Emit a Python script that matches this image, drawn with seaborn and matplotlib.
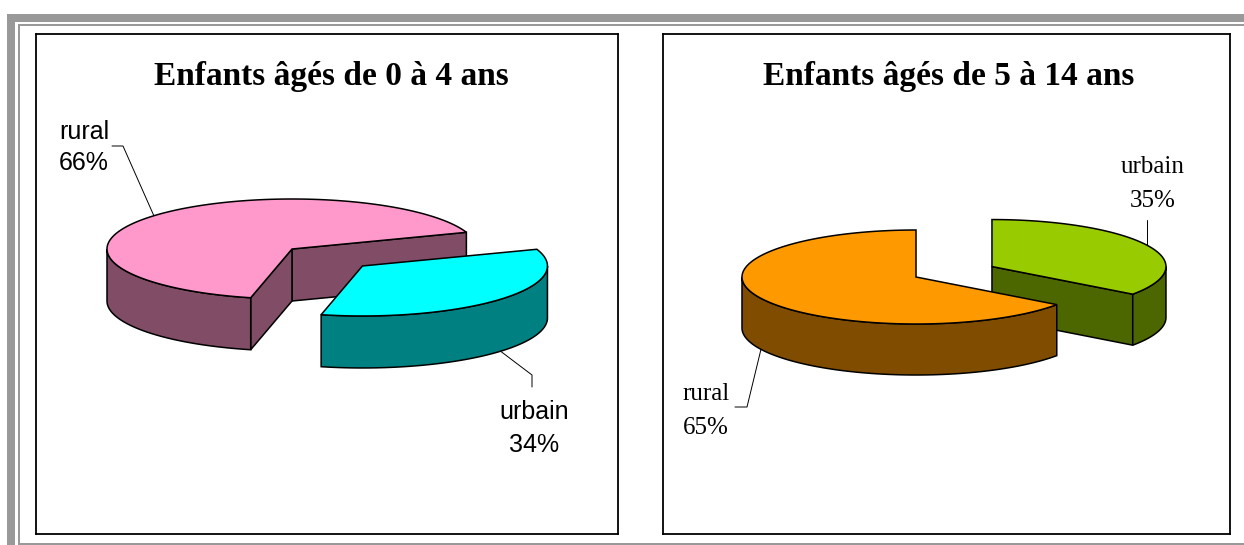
import matplotlib
matplotlib.use("Agg")
import matplotlib.pyplot as plt
from matplotlib.patches import Polygon, Rectangle
import seaborn as sns
import numpy as np

# --- data -------------------------------------------------------------
categories = ["rural", "urbain"]
titles = ["Enfants âgés de 0 à 4 ans", "Enfants âgés de 5 à 14 ans"]
shares_0_4 = [66, 34]
shares_5_14 = [65, 35]

top_colors_0_4 = ["#FF99CC", "#00FFFF"]
side_colors_0_4 = ["#804C66", "#008080"]
top_colors_5_14 = ["#FF9900", "#99CC00"]
side_colors_5_14 = ["#804C00", "#4C6600"]

sns.set_style("white")
plt.rcParams["text.color"] = "black"

W, H = 1244, 545
fig = plt.figure(figsize=(W / 100, H / 100), dpi=100)

# page frame (grey bands like the original document)
bg = fig.add_axes([0, 0, 1, 1])
bg.set_xlim(0, W)
bg.set_ylim(H, 0)
bg.axis("off")
grey = "#999999"
bg.add_patch(Rectangle((7, 14), W - 7, 8, color=grey, lw=0))
bg.add_patch(Rectangle((7, 14), 8, H - 14, color=grey, lw=0))
bg.add_patch(Rectangle((18, 23.5), W - 18, 2, color=grey, lw=0))
bg.add_patch(Rectangle((18, 23.5), 1.5, H - 23.5, color=grey, lw=0))
bg.add_patch(Rectangle((18, 543), W - 18, 2, color=grey, lw=0))


def panel_axes(x0, y0, x1, y1):
    ax = fig.add_axes([x0 / W, 1 - y1 / H, (x1 - x0) / W, (y1 - y0) / H])
    ax.set_xlim(0, x1 - x0)
    ax.set_ylim(y1 - y0, 0)
    ax.set_xticks([])
    ax.set_yticks([])
    for s in ax.spines.values():
        s.set_color("black")
        s.set_linewidth(1.3)
        s.set_visible(True)
    return ax


def wedge_angles(values, start):
    fr = np.asarray(values, float) / np.sum(values)
    edges = start + 360 * np.concatenate([[0], np.cumsum(fr)])
    return list(zip(edges[:-1], edges[1:]))


def pie3d(ax, values, start, explode, center, a, b, depth, tops, sides):
    wedges = []
    for i, ((t1, t2), ex) in enumerate(zip(wedge_angles(values, start), explode)):
        mid = np.radians((t1 + t2) / 2)
        cx = center[0] + ex * a * np.cos(mid)
        cy = center[1] - ex * b * np.sin(mid)
        wedges.append((cy, cx, t1, t2, i))
    info = {}
    lw = 1.1
    for cy, cx, t1, t2, i in sorted(wedges):
        cs, ct = sides[i], tops[i]
        # radial cut faces
        for t, nrm in ((t1, t1 - 90), (t2, t2 + 90)):
            if np.sin(np.radians(nrm)) < -1e-6:
                r = np.radians(t)
                x, y = cx + a * np.cos(r), cy - b * np.sin(r)
                quad = [(cx, cy), (x, y), (x, y + depth), (cx, cy + depth)]
                ax.add_patch(Polygon(quad, closed=True, fc=cs, ec="black", lw=lw))
        # curved side, front half only
        for k in range(-1, 3):
            lo, hi = max(t1, 180 + 360 * k), min(t2, 360 + 360 * k)
            if hi > lo:
                r = np.radians(np.linspace(lo, hi, 120))
                xs = cx + a * np.cos(r)
                ys = cy - b * np.sin(r)
                poly = np.column_stack([np.r_[xs, xs[::-1]],
                                        np.r_[ys, ys[::-1] + depth]])
                ax.add_patch(Polygon(poly, fc=cs, ec="black", lw=lw))
        # top face
        r = np.radians(np.linspace(t1, t2, 240))
        poly = np.column_stack([np.r_[cx, cx + a * np.cos(r)],
                                np.r_[cy, cy - b * np.sin(r)]])
        ax.add_patch(Polygon(poly, fc=ct, ec="black", lw=lw))
        info[i] = (cx, cy, np.radians((t1 + t2) / 2))
    return info


def rim(info, i, a, b, dz=0):
    cx, cy, m = info[i]
    return cx + a * np.cos(m), cy - b * np.sin(m) + dz


sans = ["Liberation Sans", "DejaVu Sans"]
serif = ["Liberation Serif", "DejaVu Serif"]

# --- left panel: 0-4 years -------------------------------------------
ax1 = panel_axes(36, 34, 618, 534)
a1, b1, d1 = 185, 50, 52
info1 = pie3d(ax1, shares_0_4, 19.5, [0, 0.51], (256, 215), a1, b1, d1,
              top_colors_0_4, side_colors_0_4)
ax1.text(295, 51, titles[0], ha="center", va="baseline", fontsize=24,
         fontweight="bold", family=serif, color="black")

x, y = rim(info1, 0, a1, b1)
ax1.plot([76, 87, x], [112, 112, y], color="black", lw=0.7)
ax1.text(48, 105, categories[0], ha="center", va="baseline", fontsize=18, family=sans, color="black")
ax1.text(48, 136, f"{shares_0_4[0]}%", ha="center", va="baseline", fontsize=18, family=sans, color="black")

x, y = rim(info1, 1, a1, b1, d1)
ax1.plot([x, 496, 496], [y, 341, 353], color="black", lw=0.7)
ax1.text(498, 385, categories[1], ha="center", va="baseline", fontsize=18, family=sans, color="black")
ax1.text(498, 418, f"{shares_0_4[1]}%", ha="center", va="baseline", fontsize=18, family=sans, color="black")

# --- right panel: 5-14 years -----------------------------------------
ax2 = panel_axes(663, 34, 1230, 534)
a2, b2, d2 = 174, 47, 51
info2 = pie3d(ax2, shares_5_14, 90, [0, 0.49], (253, 243), a2, b2, d2,
              top_colors_5_14, side_colors_5_14)
ax2.text(286, 51, titles[1], ha="center", va="baseline", fontsize=24,
         fontweight="bold", family=serif, color="black")

x, y = rim(info2, 1, a2, b2)
ax2.plot([x, x], [y, 186], color="black", lw=0.7)
ax2.text(490, 139, categories[1], ha="center", va="baseline", fontsize=18, family=serif, color="black")
ax2.text(490, 173, f"{shares_5_14[1]}%", ha="center", va="baseline", fontsize=18, family=serif, color="black")

x, y = rim(info2, 0, a2, b2, d2)
ax2.plot([x, 84, 72], [y, 373, 373], color="black", lw=0.7)
ax2.text(43, 366, categories[0], ha="center", va="baseline", fontsize=18, family=serif, color="black")
ax2.text(43, 400, f"{shares_5_14[0]}%", ha="center", va="baseline", fontsize=18, family=serif, color="black")

fig.savefig("out.png", dpi=100)
plt.close(fig)
